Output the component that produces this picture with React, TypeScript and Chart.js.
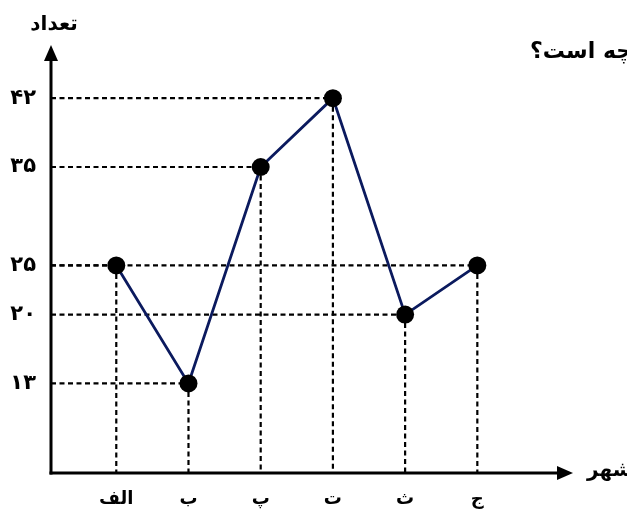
import React, { useEffect, useRef } from "react";
import { Chart, registerables } from "chart.js";

Chart.register(...registerables);

const categories = ["الف", "ب", "پ", "ت", "ث", "ج"];
const counts = [25, 13, 35, 42, 20, 25];
const yTickValues = [13, 20, 25, 35, 42];

const FONT = "'DejaVu Sans', sans-serif";

const toPersian = (n: number | string) =>
  String(n).replace(/\d/g, (d) => "۰۱۲۳۴۵۶۷۸۹"[+d]);

const decorations = {
  id: "decorations",
  beforeDatasetsDraw(chart: any) {
    const { ctx, chartArea, scales } = chart;
    const xs = scales.x;
    const ys = scales.y;
    ctx.save();
    ctx.strokeStyle = "#000";
    ctx.lineWidth = 2.2;
    ctx.setLineDash([5, 3.5]);
    counts.forEach((v, i) => {
      const px = xs.getPixelForValue(i + 1);
      const py = ys.getPixelForValue(v);
      ctx.beginPath();
      ctx.moveTo(chartArea.left, py);
      ctx.lineTo(px, py);
      ctx.stroke();
      ctx.beginPath();
      ctx.moveTo(px, py);
      ctx.lineTo(px, chartArea.bottom);
      ctx.stroke();
    });
    ctx.restore();
  },
  afterDatasetsDraw(chart: any) {
    const { ctx, chartArea } = chart;
    const { left, right, top, bottom } = chartArea;
    ctx.save();
    ctx.strokeStyle = "#000";
    ctx.fillStyle = "#000";
    ctx.lineWidth = 3;
    ctx.setLineDash([]);
    // y axis
    ctx.beginPath();
    ctx.moveTo(left, bottom + 1.5);
    ctx.lineTo(left, top + 12);
    ctx.stroke();
    ctx.beginPath();
    ctx.moveTo(left, top);
    ctx.lineTo(left - 7, top + 16);
    ctx.lineTo(left + 7, top + 16);
    ctx.closePath();
    ctx.fill();
    // x axis
    ctx.beginPath();
    ctx.moveTo(left - 1.5, bottom);
    ctx.lineTo(right - 12, bottom);
    ctx.stroke();
    ctx.beginPath();
    ctx.moveTo(right, bottom);
    ctx.lineTo(right - 16, bottom - 7);
    ctx.lineTo(right - 16, bottom + 7);
    ctx.closePath();
    ctx.fill();
    // texts
    ctx.font = `bold 20px ${FONT}`;
    ctx.textBaseline = "middle";
    ctx.textAlign = "center";
    ctx.fillText("تعداد", left + 3, 25);
    ctx.textAlign = "left";
    ctx.fillText("شهر", right + 14, bottom - 2);
    ctx.font = `bold 22px ${FONT}`;
    ctx.fillText("چه است؟", 530, 52);
    ctx.restore();
  },
};

export default function App() {
  const ref = useRef<HTMLCanvasElement | null>(null);

  useEffect(() => {
    document.body.style.margin = "0";
    if (!ref.current) return;
    const chart = new Chart(ref.current, {
      type: "line",
      data: {
        datasets: [
          {
            data: counts.map((v, i) => ({ x: i + 1, y: v })),
            borderColor: "#0b1a5e",
            borderWidth: 2.8,
            pointRadius: 9,
            pointHoverRadius: 9,
            pointBackgroundColor: "#000",
            pointBorderColor: "#000",
            pointBorderWidth: 0,
            tension: 0,
            fill: false,
          },
        ],
      },
      options: {
        animation: false,
        responsive: true,
        maintainAspectRatio: false,
        layout: { padding: { top: 45, right: 54, left: 0, bottom: 0 } },
        plugins: {
          legend: { display: false },
          tooltip: { enabled: false },
        },
        scales: {
          x: {
            type: "linear",
            min: 0.096,
            max: 7.325,
            grid: { display: false, drawTicks: false },
            border: { display: false },
            afterBuildTicks: (s: any) => {
              s.ticks = categories.map((_, i) => ({ value: i + 1 }));
            },
            afterFit: (s: any) => {
              s.height = 50;
            },
            ticks: {
              autoSkip: false,
              maxRotation: 0,
              minRotation: 0,
              padding: 16,
              color: "#000",
              font: { family: FONT, size: 18, weight: "bold" },
              callback: (v: any) => categories[Number(v) - 1] ?? "",
            },
          },
          y: {
            type: "linear",
            min: 3.9,
            max: 47.4,
            grid: { display: false, drawTicks: false },
            border: { display: false },
            afterBuildTicks: (s: any) => {
              s.ticks = yTickValues.map((v) => ({ value: v }));
            },
            afterFit: (s: any) => {
              s.width = 51;
            },
            ticks: {
              autoSkip: false,
              padding: 15,
              color: "#000",
              font: { family: FONT, size: 21, weight: "bold" },
              callback: (v: any) => toPersian(v),
            },
          },
        },
      },
      plugins: [decorations],
    });
    return () => chart.destroy();
  }, []);

  return (
    <div style={{ width: 627, height: 523, position: "relative", background: "#fff" }}>
      <canvas ref={ref} />
    </div>
  );
}
